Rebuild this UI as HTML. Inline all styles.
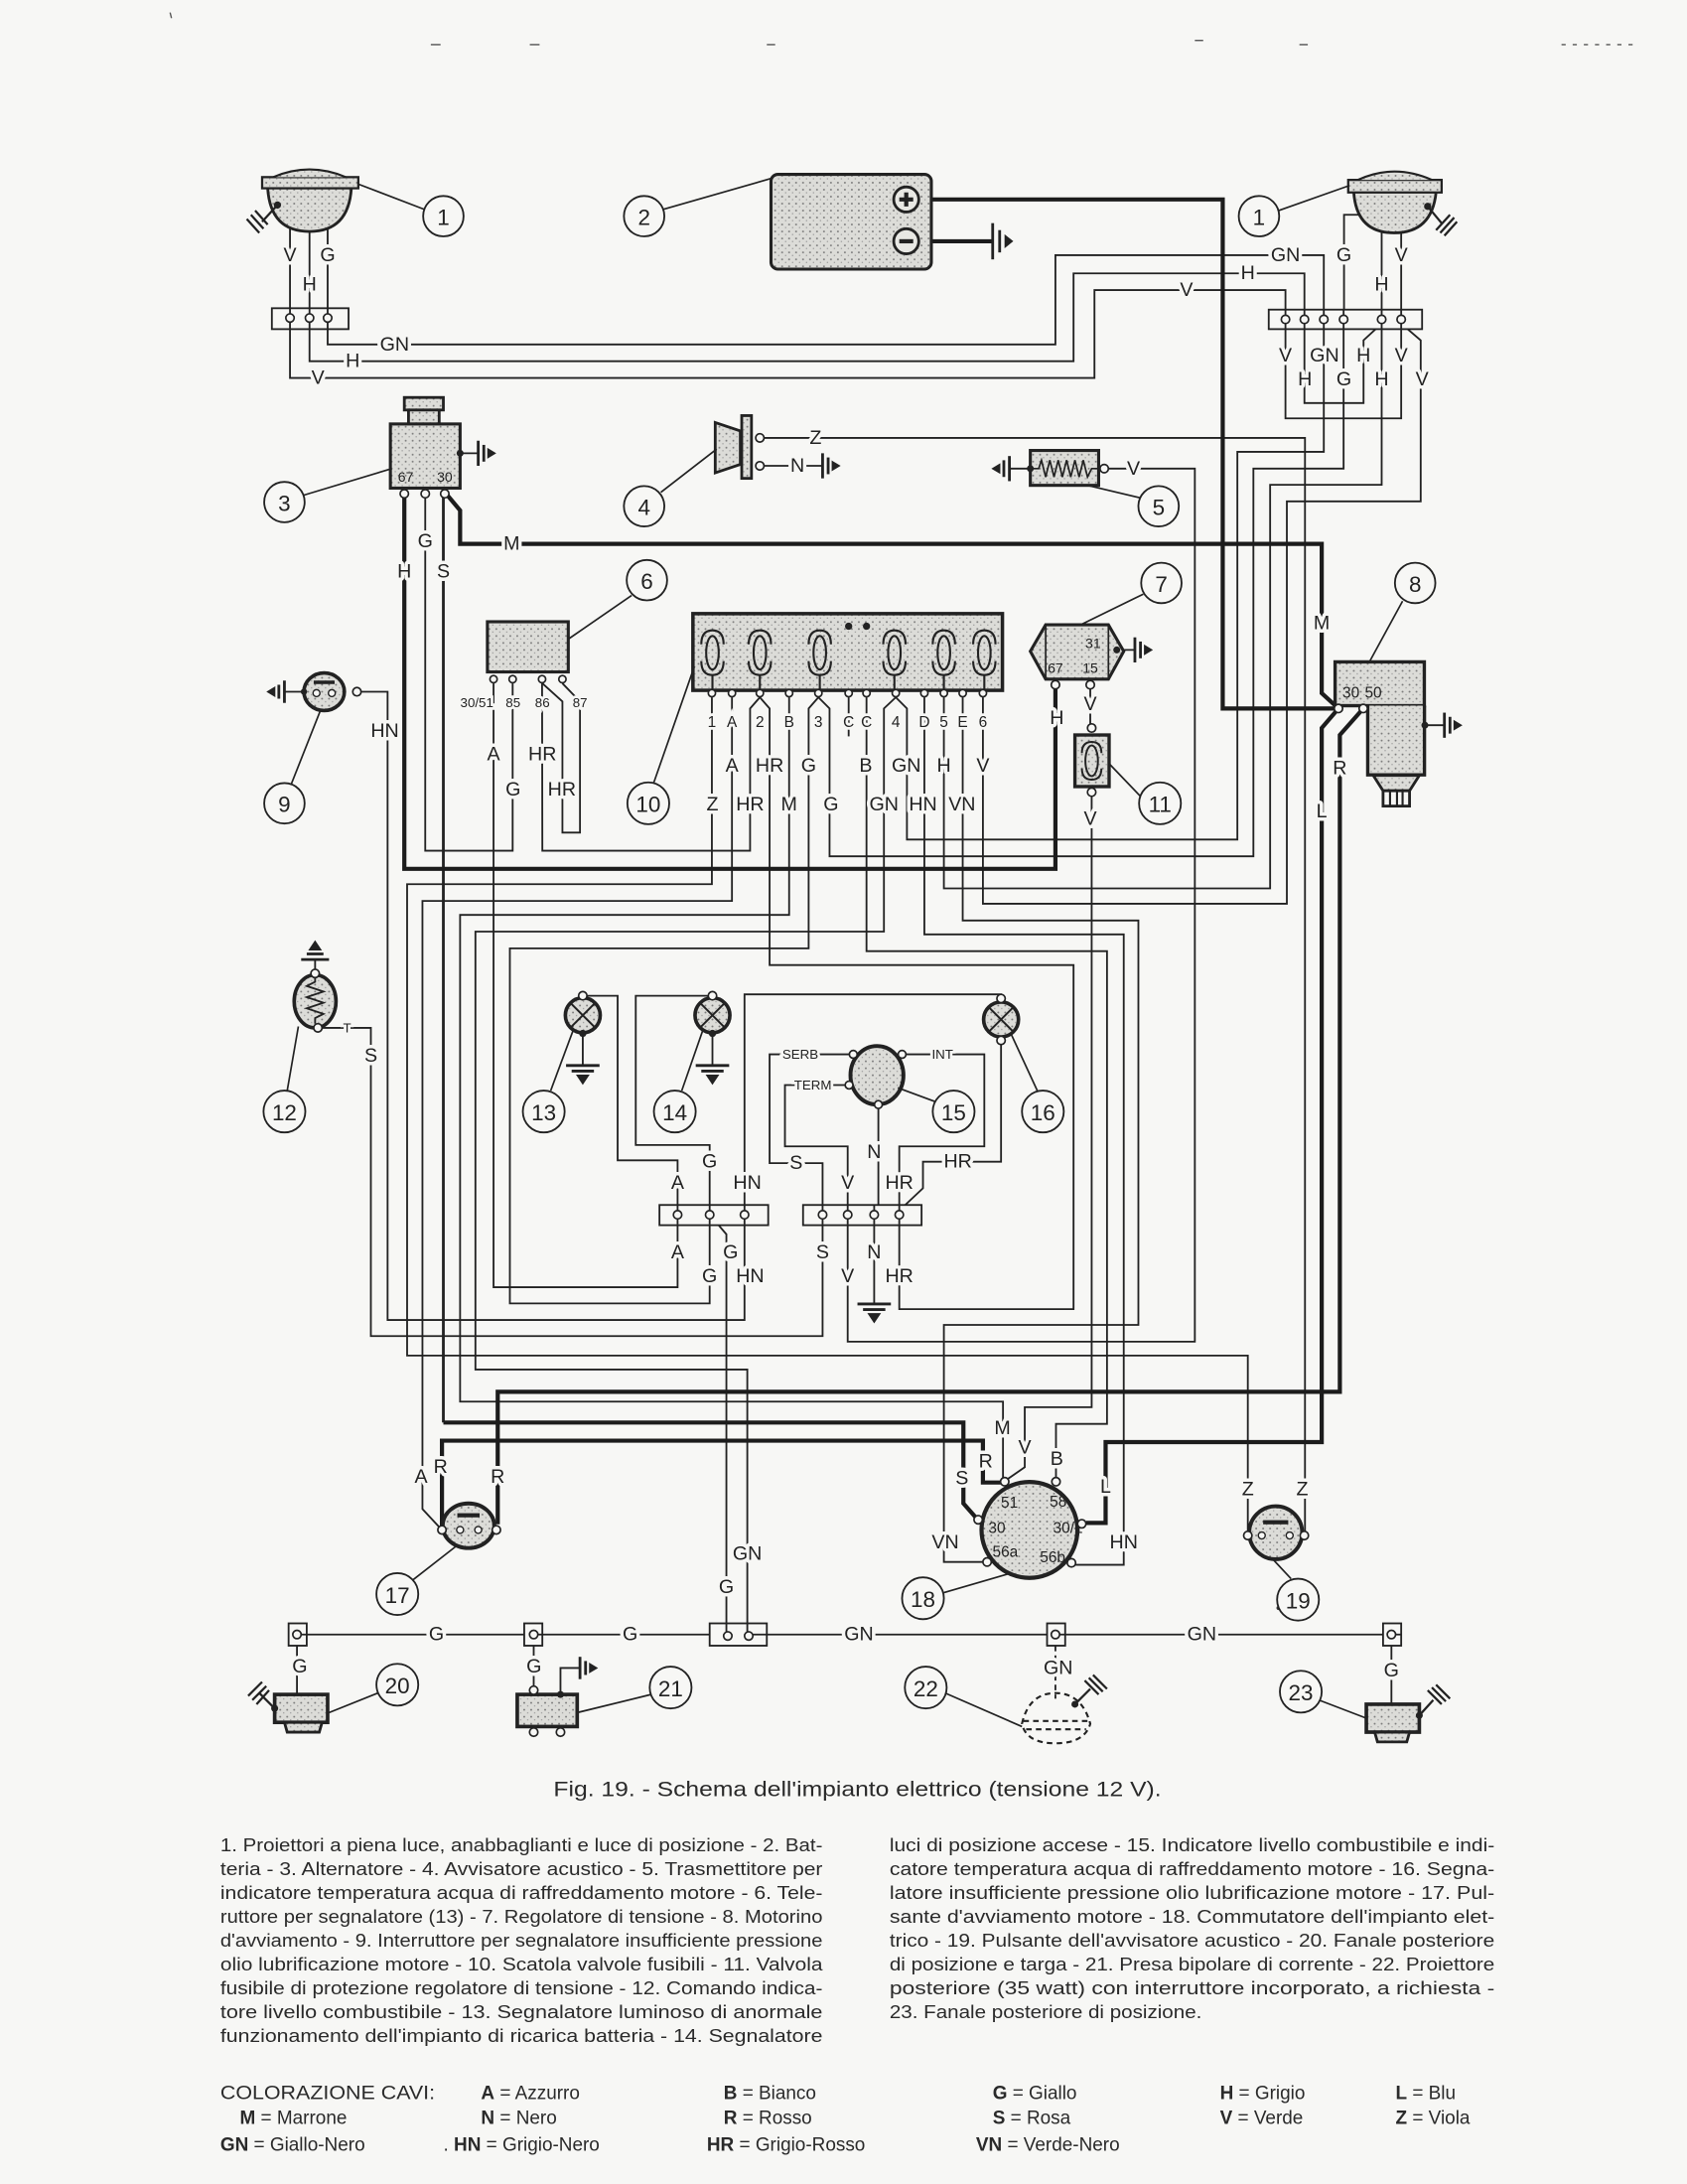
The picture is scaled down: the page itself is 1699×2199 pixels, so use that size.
<!DOCTYPE html>
<html><head><meta charset="utf-8"><style>
html,body{margin:0;padding:0;background:#f7f7f5;}
svg{display:block;}
.w{fill:none;stroke:#222;stroke-width:1.3;stroke-linejoin:miter;}
.t{fill:none;stroke:#1c1c1c;stroke-width:3;}
.m{fill:none;stroke:#222;stroke-width:2;}
.lb{font-family:"Liberation Sans","DejaVu Sans",sans-serif;font-size:14px;fill:#222;text-anchor:middle;dominant-baseline:central;stroke:#f7f7f5;stroke-width:5px;paint-order:stroke;stroke-linejoin:round;}
.sm{font-family:"Liberation Sans","DejaVu Sans",sans-serif;font-size:10px;fill:#222;text-anchor:middle;dominant-baseline:central;}
.sh{font-family:"Liberation Sans","DejaVu Sans",sans-serif;font-size:9.5px;fill:#222;text-anchor:middle;dominant-baseline:central;stroke:#f7f7f5;stroke-width:4px;paint-order:stroke;}
.nc{fill:#f7f7f5;stroke:#222;stroke-width:1.3;}
.nt{font-family:"Liberation Sans","DejaVu Sans",sans-serif;font-size:16px;fill:#222;text-anchor:middle;dominant-baseline:central;}
.tm{fill:#f7f7f5;stroke:#222;stroke-width:1.2;}
.cp{font-family:"Liberation Sans","DejaVu Sans",sans-serif;font-size:13px;fill:#2a2a2a;}
.lg{font-family:"Liberation Sans","DejaVu Sans",sans-serif;font-size:13.5px;fill:#2a2a2a;}
</style></head><body>
<svg xmlns="http://www.w3.org/2000/svg" width="1699" height="2199" viewBox="0 0 1210 1566" preserveAspectRatio="none">
<defs>
<pattern id="st" width="5" height="5" patternUnits="userSpaceOnUse"><rect width="5" height="5" fill="#dcdcd8"/><circle cx="1" cy="1" r="0.7" fill="#7a7a7a"/><circle cx="3.5" cy="3.2" r="0.5" fill="#999"/></pattern>
</defs>
<rect width="1210" height="1566" fill="#f7f7f5"/>

<!-- top page marks -->
<g stroke="#555" stroke-width="1">
<line x1="122" y1="9" x2="123" y2="13"/><line x1="309" y1="32" x2="316" y2="32"/><line x1="380" y1="32" x2="387" y2="32"/>
<line x1="550" y1="32" x2="556" y2="32"/><line x1="857" y1="29" x2="863" y2="29"/><line x1="932" y1="32" x2="938" y2="32"/>
<line x1="1120" y1="32" x2="1176" y2="32" stroke-dasharray="3 5"/>
</g>

<!-- ================= WIRES ================= -->
<g class="w">
<!-- left headlamp to right block -->
<path d="M208,158 L208,271 L785,271 L785,208 L922,208 L922,226"/>
<path d="M222,163 L222,259 L770,259 L770,196 L935.6,196 L935.6,226"/>
<path d="M235,158 L235,247 L757,247 L757,183 L949.5,183 L949.5,226"/>
<!-- right lamp -->
<path d="M980,154 L964,154 L964,226"/>
<path d="M991,165 L991,226"/>
<path d="M1005,163 L1005,226"/>
<!-- below right block -->
<path d="M922,232 L922,300 L1005,300 L1005,232"/>
<path d="M935.6,232 L935.6,289 L978,289 L978,244 L991,232"/>
<path d="M949.5,232 L949.5,324 L887.5,324 L887.5,602 L650.5,602 L650.5,508 L642.5,500"/>
<path d="M963.7,232 L963.7,336 L899,336 L899,614 L595,614 L595,508 L587,500"/>
<path d="M991,232 L991,347.6 L911,347.6 L911,637 L677,637 L677,500"/>
<path d="M1005,232 L1019,244 L1019,359.5 L923,359.5 L923,648 L705,648 L705,500"/>
<!-- alternator G -->
<path d="M305,354 L305,610 L367.7,610 L367.7,490"/>
<!-- horn -->
<path d="M548,314 L936,314 L936,1101"/>
<path d="M548,334 L590,334"/>
<!-- sensor 5 -->
<path d="M795,336 L857,336 L857,962 L608,962 L608,875"/>
<!-- relay 6 -->
<path d="M354,490 L354,923 L486,923 L486,875"/>
<path d="M388.8,490 L389,610 L538,610 L538,508 L545,500"/>
<path d="M389,490 L403.4,503 L403.4,597 L416,597 L416,503 L403.4,490"/>
<!-- switch 9 -->
<path d="M259,496 L278,496 L278,946.5 L534,946.5 L534,875"/>
<path d="M534,868 L534,713 L718,713 L718,716"/>
<!-- fuse box -->
<path d="M510.6,500 L510.6,634 L292,634 L292,972 L895,972 L895,1101"/>
<path d="M525,500 L525,646 L303,646 L303,1082 L316,1096"/>
<path d="M545,500 L552,508 L552,692 L770,692 L770,938.7 L645,938.7 L645,875"/>
<path d="M566,500 L566,656 L330,656 L330,1005 L719.4,1005 L719.4,1060"/>
<path d="M587,500 L580,508 L580,680 L365.7,680 L365.7,934.6 L509,934.6 L509,875"/>
<path d="M621.5,500 L621.5,682 L794,682 L794,1021 L757.4,1021 L757.4,1060"/>
<path d="M642.5,500 L634,508 L634,668 L341,668 L341,982 L536,982 L536,1170"/>
<path d="M663,500 L663,670 L806,670 L806,1122 L771,1122"/>
<path d="M690.5,500 L690.5,660 L816.5,660 L816.5,950 L677,950 L677,1120 L706,1120"/>
<path d="M608.7,500 L608.7,528"/>
<!-- regulator / fuse 11 -->
<path d="M782,491 L782,522"/>
<path d="M783,568 L783,1009 L735,1009 L735,1052 L722,1061"/>
<!-- 12 -->
<path d="M229,737 L266,737 L266,958 L590,958 L590,875"/>
<path d="M226,697 L226,688"/>
<!-- 13 / 14 / 16 -->
<path d="M421,714 L443,714 L443,832 L486,832 L486,868"/>
<path d="M508,714 L456,714 L456,821 L509,821 L509,868"/>
<path d="M718,746 L718,833 L662,833 L662,852 L645,868"/>
<path d="M418,741 L418,764"/><path d="M511,741 L511,764"/>
<!-- 15 -->
<path d="M610,756 L552,756 L552,834 L590,834 L590,868"/>
<path d="M606,778 L563,778 L563,822 L608,822 L608,868"/>
<path d="M649,756 L706,756 L706,822 L645,822 L645,868"/>
<path d="M630,792 L630,868"/>
<path d="M627,875 L627,935"/>
<!-- left block G diag -->
<path d="M509,871 L521,885 L521,1170"/>
<!-- bottom line -->
<path d="M213,1172 L998,1172"/>
<path d="M213,1180 L213,1215"/><path d="M382.8,1180 L382.8,1212"/><path d="M998,1180 L998,1222"/>
<path d="M757,1180 L757,1218" stroke-dasharray="4 3"/>
<!-- inside fuse box buses -->
<path d="M511,454 L511,449 L525,449 L525,495"/>
<path d="M545,454 L545,449 L566,449 L566,495"/>
<path d="M587,454 L587,449 L642,449 L642,454"/>
<path d="M608.7,449 L608.7,495"/><path d="M621.5,449 L621.5,495"/>
<path d="M677,454 L677,449 L663,449 L663,495"/>
<path d="M706,454 L706,449 L690.5,449 L690.5,495"/>
</g>
<g class="m">
<path d="M318,354 L318,1020"/>
</g>
<g class="t">
<path d="M659,143 L877,143 L877,508 L957,508"/>
<path d="M659,173 L712,173"/>
<path d="M320,354 L330,366 L330,390 L948,390 L948,497 L960,508"/>
<path d="M290,354 L290,623 L757,623 L757,492"/>
<path d="M318,1020 L691,1020 L691,1078 L701.6,1090"/>
<path d="M960,508 L948,522 L948,1034 L793,1034 L793,1092 L779,1092"/>
<path d="M977.8,508 L961,527 L961,998 L357,998 L357,1093"/>
<path d="M317,1094 L317,1033 L705,1033 L705,1063 L720,1063"/>
</g>

<!-- ================= GROUNDS ================= -->
<g stroke="#222" stroke-width="2" fill="#222">
<!-- battery -->
<line x1="712" y1="160" x2="712" y2="186"/><line x1="717" y1="165" x2="717" y2="181"/><path d="M721,169 L726,173 L721,177 Z" stroke-width="1"/>
<!-- alternator -->
<line x1="330" y1="325" x2="343" y2="325" stroke-width="1.3"/><line x1="343" y1="316" x2="343" y2="334"/><line x1="347" y1="319" x2="347" y2="331"/><path d="M350,322 L355,325 L350,328 Z" stroke-width="1"/>
<!-- horn -->
<line x1="590" y1="325" x2="590" y2="343"/><line x1="594" y1="328" x2="594" y2="340"/><path d="M597,331 L602,334 L597,337 Z" stroke-width="1"/>
<!-- sensor 5 -->
<line x1="739" y1="336" x2="724" y2="336" stroke-width="1.3"/><line x1="724" y1="327" x2="724" y2="345"/><line x1="720" y1="330" x2="720" y2="342"/><path d="M717,333 L712,336 L717,339 Z" stroke-width="1"/>
<!-- switch 9 -->
<line x1="218" y1="496" x2="204" y2="496" stroke-width="1.3"/><line x1="204" y1="488" x2="204" y2="504"/><line x1="200" y1="491" x2="200" y2="501"/><path d="M197,493 L192,496 L197,499 Z" stroke-width="1"/>
<!-- regulator -->
<line x1="801" y1="466" x2="814" y2="466" stroke-width="1.3"/><line x1="814" y1="457" x2="814" y2="475"/><line x1="818" y1="460" x2="818" y2="472"/><path d="M821,463 L826,466 L821,469 Z" stroke-width="1"/>
<!-- starter -->
<line x1="1022" y1="520" x2="1036" y2="520" stroke-width="1.3"/><line x1="1036" y1="511" x2="1036" y2="529"/><line x1="1040" y1="514" x2="1040" y2="526"/><path d="M1043,517 L1048,520 L1043,523 Z" stroke-width="1"/>
<!-- 21 -->
<path d="M402,1215 L402,1196 L416,1196" fill="none" stroke-width="1.3"/><line x1="416" y1="1188" x2="416" y2="1204"/><line x1="420" y1="1191" x2="420" y2="1201"/><path d="M423,1193 L428,1196 L423,1199 Z" stroke-width="1"/>
<!-- 12 up ground -->
<line x1="216" y1="688" x2="236" y2="688"/><line x1="220" y1="684" x2="232" y2="684"/><path d="M222,681 L226,675 L230,681 Z" stroke-width="1"/>
<!-- 13, 14, N down grounds -->
<line x1="406" y1="764" x2="430" y2="764"/><line x1="410" y1="768" x2="426" y2="768"/><path d="M414,771 L422,771 L418,777 Z" stroke-width="1"/>
<line x1="499" y1="764" x2="523" y2="764"/><line x1="503" y1="768" x2="519" y2="768"/><path d="M507,771 L515,771 L511,777 Z" stroke-width="1"/>
<line x1="615" y1="935" x2="639" y2="935"/><line x1="619" y1="939" x2="635" y2="939"/><path d="M623,942 L631,942 L627,948 Z" stroke-width="1"/>
</g>

<!-- ================= COMPONENTS ================= -->
<!-- left headlamp -->
<path d="M192,135 Q194,166 222,166 Q250,166 252,135" fill="url(#st)" stroke="#222" stroke-width="2"/>
<rect x="188" y="127" width="69" height="8" fill="url(#st)" stroke="#222" stroke-width="1.6"/>
<path d="M196,127 Q222,116 248,127" fill="url(#st)" stroke="#222" stroke-width="1.5"/>
<circle cx="199" cy="147" r="2.6" fill="#222"/>
<g stroke="#222" stroke-width="1.6"><line x1="199" y1="147" x2="188" y2="159"/><line x1="180" y1="154" x2="189" y2="164"/><line x1="183" y1="151" x2="192" y2="161"/><line x1="177" y1="157" x2="186" y2="167"/></g>
<!-- right headlamp -->
<path d="M971,138 Q973,167 1000,167 Q1027,167 1030,138" fill="url(#st)" stroke="#222" stroke-width="2"/>
<rect x="967" y="129" width="67" height="9" fill="url(#st)" stroke="#222" stroke-width="1.6"/>
<path d="M974,129 Q1000,117 1027,129" fill="url(#st)" stroke="#222" stroke-width="1.5"/>
<circle cx="1024" cy="148" r="2.6" fill="#222"/>
<g stroke="#222" stroke-width="1.6"><line x1="1024" y1="148" x2="1034" y2="160"/><line x1="1030" y1="165" x2="1040" y2="154"/><line x1="1033" y1="167" x2="1043" y2="156"/><line x1="1036" y1="169" x2="1045" y2="159"/></g>
<!-- terminal blocks top -->
<rect x="195" y="221" width="55" height="15" fill="#f7f7f5" stroke="#222" stroke-width="1.3"/>
<rect x="910" y="222" width="110" height="14" fill="#f7f7f5" stroke="#222" stroke-width="1.3"/>
<g class="w"><path d="M208,221 L208,236 M222,221 L222,236 M235,221 L235,236"/>
<path d="M922,222 L922,236 M935.6,222 L935.6,236 M949.5,222 L949.5,236 M963.7,222 L963.7,236 M991,222 L991,236 M1005,222 L1005,236"/></g>
<g class="tm"><circle cx="208" cy="228" r="3"/><circle cx="222" cy="228" r="3"/><circle cx="235" cy="228" r="3"/>
<circle cx="922" cy="229" r="3"/><circle cx="935.6" cy="229" r="3"/><circle cx="949.5" cy="229" r="3"/><circle cx="963.7" cy="229" r="3"/><circle cx="991" cy="229" r="3"/><circle cx="1005" cy="229" r="3"/></g>

<!-- battery -->
<rect x="553" y="125" width="115" height="68" rx="5" fill="url(#st)" stroke="#222" stroke-width="2.2"/>
<circle cx="650" cy="143" r="9" fill="#e8e8e4" stroke="#222" stroke-width="2"/>
<path d="M645,143 L655,143 M650,138 L650,148" stroke="#222" stroke-width="3"/>
<circle cx="650" cy="173" r="9" fill="#e8e8e4" stroke="#222" stroke-width="2"/>
<path d="M645,173 L655,173" stroke="#222" stroke-width="3"/>

<!-- alternator -->
<rect x="290" y="285" width="28" height="9" fill="url(#st)" stroke="#222" stroke-width="2"/>
<rect x="293" y="294" width="22" height="10" fill="url(#st)" stroke="#222" stroke-width="2"/>
<rect x="280" y="304" width="50" height="46" fill="url(#st)" stroke="#222" stroke-width="2.2"/>
<circle cx="330" cy="325" r="2.5" fill="#222"/>
<text class="sm" x="291" y="342">67</text><text class="sm" x="319" y="342">30</text>
<g class="tm"><circle cx="290" cy="354" r="3"/><circle cx="305" cy="354" r="3"/><circle cx="319" cy="354" r="3"/></g>

<!-- horn -->
<path d="M513,303 L531,309 L531,333 L513,339 Z" fill="url(#st)" stroke="#222" stroke-width="2"/>
<rect x="532" y="298" width="7" height="45" fill="url(#st)" stroke="#222" stroke-width="2"/>
<g class="tm"><circle cx="545" cy="314" r="3"/><circle cx="545" cy="334" r="3"/></g>

<!-- sensor 5 -->
<rect x="739" y="323" width="49" height="25" fill="url(#st)" stroke="#222" stroke-width="2.2"/>
<path d="M741,336 L745,336 L747,330 L750,342 L753,330 L756,342 L759,330 L762,342 L765,330 L768,342 L771,330 L774,342 L777,330 L780,342 L783,336 L788,336" fill="none" stroke="#222" stroke-width="1.2"/>
<circle cx="739" cy="336" r="2.5" fill="#222"/>
<circle class="tm" cx="792" cy="336" r="3"/>

<!-- relay 6 -->
<rect x="349.6" y="445.8" width="58" height="36" fill="url(#st)" stroke="#222" stroke-width="2.2"/>
<g class="tm"><circle cx="354" cy="487" r="2.6"/><circle cx="367.7" cy="487" r="2.6"/><circle cx="388.8" cy="487" r="2.6"/><circle cx="403.4" cy="487" r="2.6"/></g>
<text class="sh" x="342" y="504">30/51</text><text class="sh" x="368" y="504">85</text><text class="sh" x="389" y="504">86</text><text class="sh" x="416" y="504">87</text>

<!-- switch 9 -->
<ellipse cx="232.5" cy="496" rx="14.5" ry="13.5" fill="url(#st)" stroke="#222" stroke-width="2.6"/>
<rect x="225" y="488" width="15" height="2.5" fill="#222"/>
<circle cx="227" cy="497" r="2.5" fill="#f7f7f5" stroke="#222"/><circle cx="238" cy="497" r="2.5" fill="#f7f7f5" stroke="#222"/>
<circle cx="218" cy="496" r="2.3" fill="#222"/>
<circle class="tm" cx="256" cy="496" r="3"/>

<!-- fuse box 10 -->
<rect x="497" y="440" width="222" height="55" fill="url(#st)" stroke="#222" stroke-width="2.5"/>
<g fill="none" stroke="#222" stroke-width="1.5">
<g id="fz"></g>
<ellipse cx="511" cy="468" rx="4.5" ry="12"/><path d="M503,462 Q503,452 511,452 Q519,452 519,462 M503,474 Q503,484 511,484 Q519,484 519,474"/>
<ellipse cx="545" cy="468" rx="4.5" ry="12"/><path d="M537,462 Q537,452 545,452 Q553,452 553,462 M537,474 Q537,484 545,484 Q553,484 553,474"/>
<ellipse cx="588" cy="468" rx="4.5" ry="12"/><path d="M580,462 Q580,452 588,452 Q596,452 596,462 M580,474 Q580,484 588,484 Q596,484 596,474"/>
<ellipse cx="641.5" cy="468" rx="4.5" ry="12"/><path d="M633.5,462 Q633.5,452 641.5,452 Q649.5,452 649.5,462 M633.5,474 Q633.5,484 641.5,484 Q649.5,484 649.5,474"/>
<ellipse cx="677" cy="468" rx="4.5" ry="12"/><path d="M669,462 Q669,452 677,452 Q685,452 685,462 M669,474 Q669,484 677,484 Q685,484 685,474"/>
<ellipse cx="706" cy="468" rx="4.5" ry="12"/><path d="M698,462 Q698,452 706,452 Q714,452 714,462 M698,474 Q698,484 706,484 Q714,484 714,474"/>
<path d="M511,484 L511,495 M545,484 L545,495 M588,484 L588,495 M641.5,484 L641.5,495 M677,484 L677,495 M706,484 L706,495"/>
</g>
<circle cx="608.7" cy="449" r="2.6" fill="#222"/><circle cx="621.5" cy="449" r="2.6" fill="#222"/>
<g class="tm">
<circle cx="510.6" cy="497" r="2.6"/><circle cx="525" cy="497" r="2.6"/><circle cx="545" cy="497" r="2.6"/><circle cx="566" cy="497" r="2.6"/><circle cx="587" cy="497" r="2.6"/><circle cx="608.7" cy="497" r="2.6"/><circle cx="621.5" cy="497" r="2.6"/><circle cx="642.5" cy="497" r="2.6"/><circle cx="663" cy="497" r="2.6"/><circle cx="677" cy="497" r="2.6"/><circle cx="690.5" cy="497" r="2.6"/><circle cx="705" cy="497" r="2.6"/>
</g>
<g class="sh" style="font-size:11px">
<text x="510.6" y="518">1</text><text x="525" y="518">A</text><text x="545" y="518">2</text><text x="566" y="518">B</text><text x="587" y="518">3</text><text x="608.7" y="518">C</text><text x="621.5" y="518">C</text><text x="642.5" y="518">4</text><text x="663" y="518">D</text><text x="677" y="518">5</text><text x="690.5" y="518">E</text><text x="705" y="518">6</text>
</g>

<!-- regulator 7 -->
<path d="M739,467 L750,448 L795,448 L806,467 L795,487 L750,487 Z" fill="url(#st)" stroke="#222" stroke-width="2.2"/>
<path d="M750,448 L750,487 M795,448 L795,487" stroke="#222" stroke-width="1.2"/>
<circle cx="801" cy="466" r="2.5" fill="#222"/>
<text class="sm" x="784" y="461">31</text><text class="sm" x="757" y="479">67</text><text class="sm" x="782" y="479">15</text>
<g class="tm"><circle cx="757" cy="491" r="3"/><circle cx="782" cy="491" r="3"/></g>

<!-- fuse 11 -->
<rect x="771" y="527" width="24.5" height="37" fill="url(#st)" stroke="#222" stroke-width="2.4"/>
<g fill="none" stroke="#222" stroke-width="1.4"><ellipse cx="783" cy="545.5" rx="4.5" ry="11"/><path d="M776,540 Q776,532 783,532 Q790,532 790,540 M776,551 Q776,559 783,559 Q790,559 790,551"/></g>
<g class="tm"><circle cx="783" cy="522" r="3"/><circle cx="783" cy="568" r="3"/></g>

<!-- starter 8 -->
<rect x="957.6" y="474.6" width="64" height="31.4" fill="url(#st)" stroke="#222" stroke-width="2.4"/>
<path d="M981,506 L981,555.6 L1021.7,555.6 L1021.7,506" fill="url(#st)" stroke="#222" stroke-width="2.4"/>
<path d="M985,556 L1018,556 L1011,567 L992,567 Z" fill="url(#st)" stroke="#222" stroke-width="2"/>
<rect x="992" y="567" width="19" height="11" fill="#f7f7f5" stroke="#222" stroke-width="2"/>
<path d="M997,567 L997,578 M1002,567 L1002,578 M1006,567 L1006,578" stroke="#222" stroke-width="1.5"/>
<circle cx="1022" cy="520" r="2.5" fill="#222"/>
<text class="sm" x="969" y="497" style="font-size:11px">30</text><text class="sm" x="985" y="497" style="font-size:11px">50</text>
<g class="tm"><circle cx="960" cy="508" r="3"/><circle cx="977.8" cy="508" r="3"/></g>

<!-- 12 gauge -->
<ellipse cx="226" cy="718" rx="15" ry="19" fill="url(#st)" stroke="#222" stroke-width="2.6"/>
<path d="M226,701 L226,704 L220,707 L232,711 L220,715 L232,719 L220,723 L232,727 L226,730 L226,734" fill="none" stroke="#222" stroke-width="1.3"/>
<g class="tm"><circle cx="226" cy="698" r="3"/><circle cx="228" cy="737" r="3"/></g>

<!-- lamps 13, 14, 16 -->
<g stroke="#222">
<circle cx="418" cy="728" r="12.5" fill="url(#st)" stroke-width="2.6"/><path d="M409.5,719.5 L426.5,736.5 M426.5,719.5 L409.5,736.5" stroke-width="1.4"/>
<circle cx="511" cy="728" r="12.5" fill="url(#st)" stroke-width="2.6"/><path d="M502.5,719.5 L519.5,736.5 M519.5,719.5 L502.5,736.5" stroke-width="1.4"/>
<circle cx="718" cy="731" r="12.5" fill="url(#st)" stroke-width="2.6"/><path d="M709.5,722.5 L726.5,739.5 M726.5,722.5 L709.5,739.5" stroke-width="1.4"/>
</g>
<circle cx="418" cy="741" r="2.6" fill="#222"/><circle cx="511" cy="741" r="2.6" fill="#222"/>
<g class="tm"><circle cx="418" cy="714" r="3"/><circle cx="511" cy="714" r="3"/><circle cx="718" cy="716" r="3"/><circle cx="718" cy="746" r="3"/></g>

<!-- 15 gauge -->
<ellipse cx="629" cy="771" rx="19" ry="21" fill="url(#st)" stroke="#222" stroke-width="2.8"/>
<g class="tm"><circle cx="612" cy="756" r="2.8"/><circle cx="609" cy="778" r="2.8"/><circle cx="647" cy="756" r="2.8"/><circle cx="630" cy="792" r="2.8"/></g>

<!-- lower blocks -->
<rect x="473" y="864" width="78" height="14.5" fill="#f7f7f5" stroke="#222" stroke-width="1.3"/>
<rect x="576" y="864" width="85" height="14.5" fill="#f7f7f5" stroke="#222" stroke-width="1.3"/>
<g class="w"><path d="M486,864 L486,878 M509,864 L509,878 M534,864 L534,878 M590,864 L590,878 M608,864 L608,878 M627,864 L627,878 M645,864 L645,878"/></g>
<g class="tm"><circle cx="486" cy="871" r="3"/><circle cx="509" cy="871" r="3"/><circle cx="534" cy="871" r="3"/><circle cx="590" cy="871" r="3"/><circle cx="608" cy="871" r="3"/><circle cx="627" cy="871" r="3"/><circle cx="645" cy="871" r="3"/></g>

<!-- 17 -->
<ellipse cx="336" cy="1094" rx="18.5" ry="16" fill="url(#st)" stroke="#222" stroke-width="2.8"/>
<rect x="328" y="1085" width="16" height="3" fill="#222"/>
<circle cx="330" cy="1097" r="2.5" fill="#f7f7f5" stroke="#222"/><circle cx="343" cy="1097" r="2.5" fill="#f7f7f5" stroke="#222"/>
<g class="tm"><circle cx="317" cy="1097" r="3"/><circle cx="356" cy="1097" r="3"/></g>

<!-- 18 -->
<circle cx="738.4" cy="1097" r="34.4" fill="url(#st)" stroke="#222" stroke-width="3"/>
<g class="sm" style="font-size:11px"><text x="724" y="1078">51</text><text x="759" y="1077">58</text><text x="715" y="1096">30</text><text x="766" y="1096">30/1</text><text x="721" y="1113">56a</text><text x="755" y="1117">56b</text></g>
<g class="tm"><circle cx="720.6" cy="1062.4" r="3"/><circle cx="757.4" cy="1062.4" r="3"/><circle cx="701.6" cy="1089.7" r="3"/><circle cx="775.9" cy="1092.6" r="3"/><circle cx="708" cy="1120" r="3"/><circle cx="768.5" cy="1120.6" r="3"/></g>

<!-- 19 -->
<circle cx="915" cy="1099" r="19" fill="url(#st)" stroke="#222" stroke-width="2.8"/>
<rect x="906" y="1090" width="18" height="3" fill="#222"/>
<circle cx="905" cy="1101" r="2.5" fill="#f7f7f5" stroke="#222"/><circle cx="925" cy="1101" r="2.5" fill="#f7f7f5" stroke="#222"/>
<g class="tm"><circle cx="895" cy="1101" r="3"/><circle cx="935.5" cy="1101" r="3"/></g>
<circle cx="917" cy="1153" r="1.5" fill="#333"/>

<!-- bottom connectors -->
<g fill="#f7f7f5" stroke="#222" stroke-width="1.3">
<rect x="207" y="1164" width="13" height="16"/><rect x="376" y="1164" width="13" height="16"/>
<rect x="509" y="1164" width="41" height="16"/><rect x="751" y="1164" width="13" height="16"/><rect x="992" y="1164" width="13" height="16"/>
</g>
<g class="w"><path d="M213,1172 L220,1172 M382.8,1172 L389,1172 M757,1172 L764,1172 M998,1172 L1005,1172 M521,1164 L521,1172 M536,1164 L536,1172 M536,1172 L550,1172"/></g>
<g class="tm"><circle cx="213" cy="1172" r="3"/><circle cx="382.8" cy="1172" r="3"/><circle cx="522" cy="1173" r="3"/><circle cx="537" cy="1173" r="3"/><circle cx="757" cy="1172" r="3"/><circle cx="998" cy="1172" r="3"/></g>

<!-- 20 -->
<rect x="197" y="1215" width="38" height="20" fill="url(#st)" stroke="#222" stroke-width="2.6"/>
<path d="M204,1235 L231,1235 L229,1242 L206,1242 Z" fill="url(#st)" stroke="#222" stroke-width="2"/>
<circle cx="197" cy="1225" r="2.5" fill="#222"/>
<g stroke="#222" stroke-width="1.6"><line x1="197" y1="1225" x2="186" y2="1214"/><line x1="178" y1="1216" x2="188" y2="1206"/><line x1="181" y1="1219" x2="191" y2="1209"/><line x1="184" y1="1222" x2="193" y2="1212"/></g>
<!-- 21 -->
<rect x="371" y="1215" width="43" height="23" fill="url(#st)" stroke="#222" stroke-width="2.6"/>
<circle cx="402" cy="1215" r="2.5" fill="#222"/>
<g class="tm"><circle cx="382.8" cy="1212" r="3"/><circle cx="382.8" cy="1242" r="3"/><circle cx="402" cy="1242" r="3"/></g>
<!-- 22 dashed lamp -->
<g fill="none" stroke="#222" stroke-width="1.5" stroke-dasharray="4 3">
<path d="M733,1236 Q738,1214 757,1214 Q776,1214 782,1236 Q778,1250 757,1250 Q736,1250 733,1236 Z"/>
<path d="M734,1234 L781,1234 M736,1240 L779,1240"/>
</g>
<circle cx="771" cy="1222" r="2.5" fill="#222"/>
<g stroke="#222" stroke-width="1.6"><line x1="771" y1="1222" x2="782" y2="1211"/><line x1="778" y1="1205" x2="788" y2="1215"/><line x1="781" y1="1203" x2="791" y2="1213"/><line x1="784" y1="1201" x2="794" y2="1211"/></g>
<!-- 23 -->
<rect x="980" y="1222" width="38" height="20" fill="url(#st)" stroke="#222" stroke-width="2.6"/>
<path d="M986,1242 L1011,1242 L1009,1249 L988,1249 Z" fill="url(#st)" stroke="#222" stroke-width="2"/>
<circle cx="1018" cy="1230" r="2.5" fill="#222"/>
<g stroke="#222" stroke-width="1.6"><line x1="1018" y1="1230" x2="1028" y2="1219"/><line x1="1024" y1="1212" x2="1034" y2="1222"/><line x1="1027" y1="1210" x2="1037" y2="1220"/><line x1="1030" y1="1208" x2="1040" y2="1218"/></g>

<!-- ================= LEADERS & NUMBER CIRCLES ================= -->
<g stroke="#222" stroke-width="1.2">
<line x1="257" y1="132" x2="304" y2="150"/><line x1="917" y1="151" x2="968" y2="133"/>
<line x1="476" y1="150" x2="553" y2="128"/><line x1="218" y1="355" x2="281" y2="336"/>
<line x1="474" y1="353" x2="514" y2="322"/><line x1="818" y1="357" x2="780" y2="348"/>
<line x1="453" y1="427" x2="408" y2="458"/><line x1="820" y1="426" x2="775" y2="448"/>
<line x1="1006" y1="431" x2="982" y2="475"/><line x1="209" y1="562" x2="230" y2="509"/>
<line x1="469" y1="561" x2="498" y2="478"/><line x1="818" y1="571" x2="795" y2="547"/>
<line x1="206" y1="782" x2="214" y2="736"/><line x1="395" y1="782" x2="411" y2="739"/>
<line x1="489" y1="782" x2="504" y2="739"/><line x1="671" y1="790" x2="644" y2="780"/>
<line x1="744" y1="782" x2="725" y2="741"/><line x1="296" y1="1133" x2="328" y2="1108"/>
<line x1="677" y1="1142" x2="725" y2="1128"/><line x1="926" y1="1132" x2="912" y2="1117"/>
<line x1="271" y1="1214" x2="236" y2="1228"/><line x1="467" y1="1215" x2="414" y2="1228"/>
<line x1="678" y1="1214" x2="733" y2="1238"/><line x1="946" y1="1219" x2="980" y2="1232"/>
</g>
<g>
<circle class="nc" cx="318" cy="155" r="14.5"/><text class="nt" x="318" y="156">1</text>
<circle class="nc" cx="903" cy="155" r="14.5"/><text class="nt" x="903" y="156">1</text>
<circle class="nc" cx="462" cy="155" r="14.5"/><text class="nt" x="462" y="156">2</text>
<circle class="nc" cx="204" cy="360" r="14.5"/><text class="nt" x="204" y="361">3</text>
<circle class="nc" cx="462" cy="363" r="14.5"/><text class="nt" x="462" y="364">4</text>
<circle class="nc" cx="831" cy="363" r="14.5"/><text class="nt" x="831" y="364">5</text>
<circle class="nc" cx="464" cy="416" r="14.5"/><text class="nt" x="464" y="417">6</text>
<circle class="nc" cx="833" cy="418" r="14.5"/><text class="nt" x="833" y="419">7</text>
<circle class="nc" cx="1015" cy="418" r="14.5"/><text class="nt" x="1015" y="419">8</text>
<circle class="nc" cx="204" cy="576" r="14.5"/><text class="nt" x="204" y="577">9</text>
<circle class="nc" cx="465" cy="576" r="15"/><text class="nt" x="465" y="577">10</text>
<circle class="nc" cx="832" cy="576" r="15"/><text class="nt" x="832" y="577">11</text>
<circle class="nc" cx="204" cy="797" r="15"/><text class="nt" x="204" y="798">12</text>
<circle class="nc" cx="390" cy="797" r="15"/><text class="nt" x="390" y="798">13</text>
<circle class="nc" cx="484" cy="797" r="15"/><text class="nt" x="484" y="798">14</text>
<circle class="nc" cx="684" cy="797" r="15"/><text class="nt" x="684" y="798">15</text>
<circle class="nc" cx="748" cy="797" r="15"/><text class="nt" x="748" y="798">16</text>
<circle class="nc" cx="285" cy="1143" r="15"/><text class="nt" x="285" y="1144">17</text>
<circle class="nc" cx="662" cy="1146" r="15"/><text class="nt" x="662" y="1147">18</text>
<circle class="nc" cx="931" cy="1147" r="15"/><text class="nt" x="931" y="1148">19</text>
<circle class="nc" cx="285" cy="1208" r="15"/><text class="nt" x="285" y="1209">20</text>
<circle class="nc" cx="481" cy="1210" r="15"/><text class="nt" x="481" y="1211">21</text>
<circle class="nc" cx="664" cy="1210" r="15"/><text class="nt" x="664" y="1211">22</text>
<circle class="nc" cx="933" cy="1213" r="15"/><text class="nt" x="933" y="1214">23</text>
</g>

<!-- ================= WIRE LABELS ================= -->
<g class="lb">
<text x="208" y="183">V</text><text x="235" y="183">G</text><text x="222" y="204">H</text>
<text x="283" y="247">GN</text><text x="253" y="259">H</text><text x="228" y="271">V</text>
<text x="922" y="183">GN</text><text x="964" y="183">G</text><text x="1005" y="183">V</text><text x="991" y="204">H</text>
<text x="895" y="196">H</text><text x="851" y="208">V</text>
<text x="922" y="255">V</text><text x="950" y="255">GN</text><text x="978" y="255">H</text><text x="1005" y="255">V</text>
<text x="936" y="272">H</text><text x="964" y="272">G</text><text x="991" y="272">H</text><text x="1020" y="272">V</text>
<text x="585" y="314">Z</text><text x="572" y="334">N</text><text x="813" y="336">V</text>
<text x="367" y="390">M</text><text x="948" y="447">M</text>
<text x="290" y="410">H</text><text x="305" y="388">G</text><text x="318" y="410">S</text>
<text x="276" y="524">HN</text>
<text x="354" y="541">A</text><text x="389" y="541">HR</text><text x="368" y="566">G</text><text x="403" y="566">HR</text>
<text x="525" y="549">A</text><text x="552" y="549">HR</text><text x="580" y="549">G</text><text x="621" y="549">B</text><text x="650" y="549">GN</text><text x="677" y="549">H</text><text x="705" y="549">V</text>
<text x="511" y="577">Z</text><text x="538" y="577">HR</text><text x="566" y="577">M</text><text x="596" y="577">G</text><text x="634" y="577">GN</text><text x="662" y="577">HN</text><text x="690" y="577">VN</text>
<text x="758" y="515">H</text><text x="782" y="505">V</text><text x="782" y="587">V</text>
<text x="948" y="582">L</text><text x="961" y="551">R</text>
<text x="266" y="757">S</text>
<text x="627" y="826">N</text><text x="687" y="833">HR</text><text x="571" y="834">S</text>
<text x="509" y="833">G</text><text x="486" y="848">A</text><text x="536" y="848">HN</text>
<text x="608" y="848">V</text><text x="645" y="848">HR</text>
<text x="486" y="898">A</text><text x="524" y="898">G</text><text x="509" y="915">G</text><text x="538" y="915">HN</text>
<text x="590" y="898">S</text><text x="627" y="898">N</text><text x="608" y="915">V</text><text x="645" y="915">HR</text>
<text x="719" y="1024">M</text><text x="735" y="1038">V</text><text x="707" y="1048">R</text><text x="758" y="1046">B</text><text x="690" y="1060">S</text><text x="793" y="1066">L</text>
<text x="678" y="1106">VN</text><text x="806" y="1106">HN</text>
<text x="895" y="1068">Z</text><text x="934" y="1068">Z</text>
<text x="302" y="1059">A</text><text x="316" y="1052">R</text><text x="357" y="1059">R</text>
<text x="536" y="1114">GN</text><text x="521" y="1138">G</text>
<text x="313" y="1172">G</text><text x="452" y="1172">G</text><text x="616" y="1172">GN</text><text x="862" y="1172">GN</text>
<text x="215" y="1195">G</text><text x="383" y="1195">G</text><text x="759" y="1196">GN</text><text x="998" y="1198">G</text>
</g>
<g class="sh">
<text x="249" y="737">T</text>
<text x="574" y="756">SERB</text><text x="583" y="778">TERM</text><text x="676" y="756">INT</text>
</g>

<!-- ================= CAPTION & TEXT ================= -->
<text x="615" y="1288" text-anchor="middle" font-family="Liberation Sans, DejaVu Sans, sans-serif" font-size="15" fill="#2a2a2a" textLength="436" lengthAdjust="spacingAndGlyphs">Fig. 19. - Schema dell'impianto elettrico (tensione 12 V).</text>

<g class="cp">
<text x="158" y="1327.5" textLength="432" lengthAdjust="spacingAndGlyphs">1. Proiettori a piena luce, anabbaglianti e luce di posizione - 2. Bat-</text>
<text x="158" y="1344.6" textLength="432" lengthAdjust="spacingAndGlyphs">teria - 3. Alternatore - 4. Avvisatore acustico - 5. Trasmettitore per</text>
<text x="158" y="1361.7" textLength="432" lengthAdjust="spacingAndGlyphs">indicatore temperatura acqua di raffreddamento motore - 6. Tele-</text>
<text x="158" y="1378.8" textLength="432" lengthAdjust="spacingAndGlyphs">ruttore per segnalatore (13) - 7. Regolatore di tensione - 8. Motorino</text>
<text x="158" y="1395.9" textLength="432" lengthAdjust="spacingAndGlyphs">d'avviamento - 9. Interruttore per segnalatore insufficiente pressione</text>
<text x="158" y="1413" textLength="432" lengthAdjust="spacingAndGlyphs">olio lubrificazione motore - 10. Scatola valvole fusibili - 11. Valvola</text>
<text x="158" y="1430.1" textLength="432" lengthAdjust="spacingAndGlyphs">fusibile di protezione regolatore di tensione - 12. Comando indica-</text>
<text x="158" y="1447.2" textLength="432" lengthAdjust="spacingAndGlyphs">tore livello combustibile - 13. Segnalatore luminoso di anormale</text>
<text x="158" y="1464.3" textLength="432" lengthAdjust="spacingAndGlyphs">funzionamento dell'impianto di ricarica batteria - 14. Segnalatore</text>
<text x="638" y="1327.5" textLength="434" lengthAdjust="spacingAndGlyphs">luci di posizione accese - 15. Indicatore livello combustibile e indi-</text>
<text x="638" y="1344.6" textLength="434" lengthAdjust="spacingAndGlyphs">catore temperatura acqua di raffreddamento motore - 16. Segna-</text>
<text x="638" y="1361.7" textLength="434" lengthAdjust="spacingAndGlyphs">latore insufficiente pressione olio lubrificazione motore - 17. Pul-</text>
<text x="638" y="1378.8" textLength="434" lengthAdjust="spacingAndGlyphs">sante d'avviamento motore - 18. Commutatore dell'impianto elet-</text>
<text x="638" y="1395.9" textLength="434" lengthAdjust="spacingAndGlyphs">trico - 19. Pulsante dell'avvisatore acustico - 20. Fanale posteriore</text>
<text x="638" y="1413" textLength="434" lengthAdjust="spacingAndGlyphs">di posizione e targa - 21. Presa bipolare di corrente - 22. Proiettore</text>
<text x="638" y="1430.1" textLength="434" lengthAdjust="spacingAndGlyphs">posteriore (35 watt) con interruttore incorporato, a richiesta -</text>
<text x="638" y="1447.2" textLength="224" lengthAdjust="spacingAndGlyphs">23. Fanale posteriore di posizione.</text>
</g>

<g class="lg">
<text x="158" y="1505" textLength="154" lengthAdjust="spacingAndGlyphs">COLORAZIONE CAVI:</text>
<text x="345" y="1505"><tspan font-weight="bold">A</tspan> = Azzurro</text>
<text x="519" y="1505"><tspan font-weight="bold">B</tspan> = Bianco</text>
<text x="712" y="1505"><tspan font-weight="bold">G</tspan> = Giallo</text>
<text x="875" y="1505"><tspan font-weight="bold">H</tspan> = Grigio</text>
<text x="1001" y="1505"><tspan font-weight="bold">L</tspan> = Blu</text>
<text x="172" y="1523"><tspan font-weight="bold">M</tspan> = Marrone</text>
<text x="345" y="1523"><tspan font-weight="bold">N</tspan> = Nero</text>
<text x="519" y="1523"><tspan font-weight="bold">R</tspan> = Rosso</text>
<text x="712" y="1523"><tspan font-weight="bold">S</tspan> = Rosa</text>
<text x="875" y="1523"><tspan font-weight="bold">V</tspan> = Verde</text>
<text x="1001" y="1523"><tspan font-weight="bold">Z</tspan> = Viola</text>
<text x="158" y="1542"><tspan font-weight="bold">GN</tspan> = Giallo-Nero</text>
<text x="318" y="1542">. <tspan font-weight="bold">HN</tspan> = Grigio-Nero</text>
<text x="507" y="1542"><tspan font-weight="bold">HR</tspan> = Grigio-Rosso</text>
<text x="700" y="1542"><tspan font-weight="bold">VN</tspan> = Verde-Nero</text>
</g>
</svg>
</body></html>
